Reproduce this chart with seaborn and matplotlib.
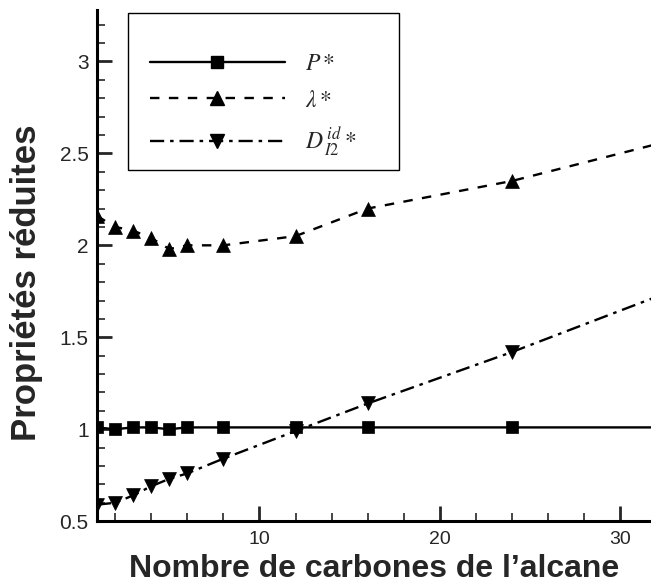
import numpy as np
import pandas as pd
import seaborn as sns
import matplotlib.pyplot as plt
from matplotlib.lines import Line2D
from matplotlib.patches import Rectangle
from matplotlib.ticker import MultipleLocator

# data (n carbons of the alkane)
n_carbon = [1, 2, 3, 4, 5, 6, 8, 12, 16, 24]
p_red = [1.01, 1.00, 1.01, 1.01, 1.00, 1.01, 1.01, 1.01, 1.01, 1.01]
lambda_red = [2.16, 2.10, 2.08, 2.04, 1.98, 2.00, 2.00, 2.05, 2.20, 2.35]
d_red = [0.59, 0.60, 0.64, 0.69, 0.73, 0.76, 0.84, 0.99, 1.14, 1.42]

# curves continue past the last point up to the edge of the plot
x_end = 32
p_end = 1.01
lambda_end = 2.55
d_end = 1.72

labels = [r"$P*$", r"$\lambda*$", r"$D^{\,id}_{\,I2}*$"]


def main():
    sns.set_style("white")
    plt.rcParams["font.family"] = ["Liberation Sans", "DejaVu Sans"]
    plt.rcParams["mathtext.fontset"] = "stix"

    df = pd.DataFrame({"n": n_carbon, "P": p_red, "lam": lambda_red, "D": d_red})
    curve = pd.concat(
        [df, pd.DataFrame({"n": [x_end], "P": [p_end], "lam": [lambda_end], "D": [d_end]})],
        ignore_index=True,
    )

    fig = plt.figure(figsize=(6.51, 5.83), dpi=100)
    ax = fig.add_axes([0.149, 0.106, 0.851, 0.877])

    styles = [
        ("P", "-", "s", 9),
        ("lam", (0, (4, 4)), "^", 10),
        ("D", (0, (6, 2.5, 1.5, 2.5)), "v", 10),
    ]
    handles = []
    for (col, ls, mk, ms), lab in zip(styles, labels):
        sns.lineplot(data=curve, x="n", y=col, ax=ax, color="black",
                     linestyle=ls, linewidth=1.7)
        sns.scatterplot(data=df, x="n", y=col, ax=ax, color="black",
                        marker=mk, s=ms ** 2, edgecolor="black", linewidth=0.5,
                        zorder=3)
        handles.append(Line2D([], [], color="black", linestyle=ls, linewidth=1.7,
                              marker=mk, markersize=ms, label=lab))

    ax.set_xlim(1, 31.7)
    ax.set_ylim(0.5, 3.28)
    ax.xaxis.set_minor_locator(MultipleLocator(2))
    ax.yaxis.set_minor_locator(MultipleLocator(0.1))
    ax.set_xticks([10, 20, 30])
    ax.set_yticks([0.5, 1, 1.5, 2, 2.5, 3])
    ax.set_yticklabels(["0.5", "1", "1.5", "2", "2.5", "3"])

    ax.tick_params(which="major", direction="in", length=11, width=2,
                   labelsize=14, pad=7)
    ax.tick_params(axis="y", which="major", pad=6, labelsize=15)
    ax.tick_params(which="minor", direction="in", length=6, width=1.2)
    ax.tick_params(axis="x", which="both", bottom=True)
    ax.tick_params(axis="y", which="both", left=True)

    for side in ["top", "right"]:
        ax.spines[side].set_visible(False)
    for side in ["left", "bottom"]:
        ax.spines[side].set_linewidth(2.2)
        ax.spines[side].set_color("black")

    ax.set_xlabel("Nombre de carbones de l\u2019alcane", fontsize=23,
                  fontweight="bold")
    ax.xaxis.label.set_va("baseline")
    ax.xaxis.set_label_coords(0.5, -0.109)
    ax.set_ylabel("Propriétés réduites", fontsize=25, fontweight="bold")
    ax.yaxis.set_label_coords(-0.097, 0.466)

    # legend box drawn as its own rectangle, entries without frame inside it
    ax.add_patch(Rectangle((0.056, 0.687), 0.489, 0.307, transform=ax.transAxes,
                           facecolor="white", edgecolor="black", linewidth=1.0,
                           zorder=4))
    leg = ax.legend(handles=handles, loc="upper left",
                    bbox_to_anchor=(0.0957, 0.915), frameon=False,
                    handlelength=5.7, handletextpad=0.85, borderpad=0,
                    labelspacing=0.6, prop={"size": 17}, borderaxespad=0)
    leg.set_zorder(5)

    fig.savefig("out.png", dpi=100)


if __name__ == "__main__":
    main()
